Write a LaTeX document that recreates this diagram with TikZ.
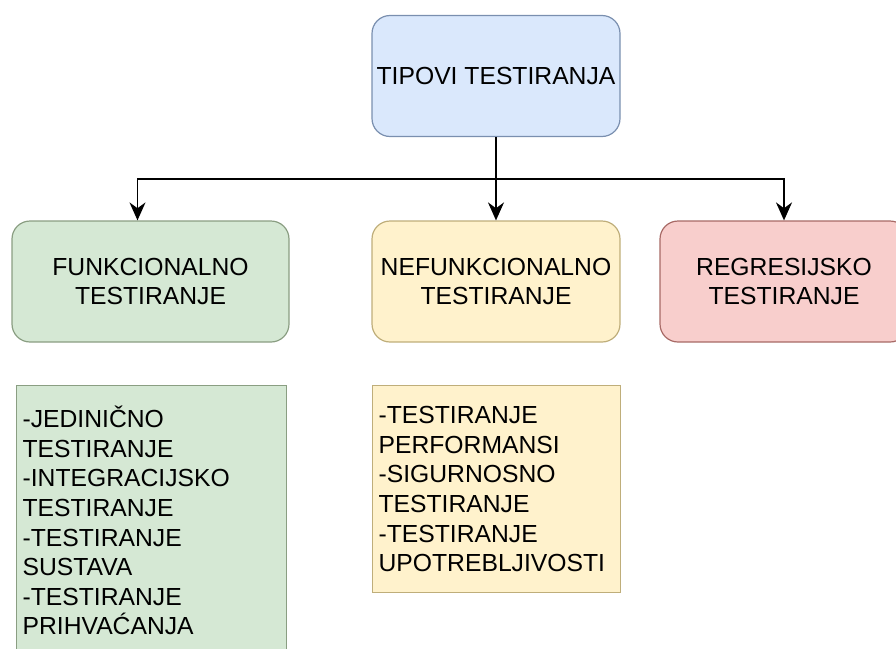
\documentclass[tikz,border=0pt]{standalone}
\usepackage{fontspec}
\setmainfont{Liberation Sans}
\usepackage{tikz}
\usetikzlibrary{arrows.meta}

\definecolor{bluefill}{HTML}{DAE8FC}
\definecolor{blueline}{HTML}{7A8FAF}
\definecolor{greenfill}{HTML}{D5E8D4}
\definecolor{greenline}{HTML}{8A9E82}
\definecolor{yellowfill}{HTML}{FFF2CC}
\definecolor{yellowline}{HTML}{BFAE7A}
\definecolor{redfill}{HTML}{F8CECC}
\definecolor{redline}{HTML}{A86A66}

\tikzset{
	typebox/.style={draw, rounded corners=18pt, line width=1.2pt, align=center,
		minimum width=248pt, minimum height=121pt,
		font=\fontsize{24.7}{29.6}\selectfont},
	listbox/.style={draw, line width=1.2pt, align=left, anchor=north west,
		inner xsep=6pt, font=\fontsize{24.7}{29.6}\selectfont},
	conn/.style={line width=1.6pt, ->}
}

\begin{document}
\begin{tikzpicture}[x=1pt,y=-1pt,>={Stealth[length=18pt,width=16pt]}]
		\useasboundingbox (0,0) rectangle (896,648);

		\node[typebox, fill=bluefill, draw=blueline] (tipovi) at (496,76) {TIPOVI TESTIRANJA};
		\node[typebox, fill=greenfill, draw=greenline, minimum width=277pt] (funk) at (150.5,281.5) {FUNKCIONALNO\\TESTIRANJE};
		\node[typebox, fill=yellowfill, draw=yellowline] (nefunk) at (496,281.5) {NEFUNKCIONALNO\\TESTIRANJE};
		\node[typebox, fill=redfill, draw=redline] (regres) at (784,281.5) {REGRESIJSKO\\TESTIRANJE};

		\node[listbox, fill=greenfill, draw=greenline, text width=258pt, minimum height=270pt] (funklist) at (16,385)
			{-JEDINIČNO\\TESTIRANJE\\-INTEGRACIJSKO\\TESTIRANJE\\-TESTIRANJE\\SUSTAVA\\-TESTIRANJE\\PRIHVAĆANJA};
		\node[listbox, fill=yellowfill, draw=yellowline, text width=236pt, minimum height=207pt] (nefunklist) at (372,385)
			{-TESTIRANJE\\PERFORMANSI\\-SIGURNOSNO\\TESTIRANJE\\-TESTIRANJE\\UPOTREBLJIVOSTI};

		\coordinate (split) at (496,179);
		\draw[conn] (tipovi.south) -- (nefunk.north);
		\draw[conn] (split) -| ([xshift=-13pt]funk.north);
		\draw[conn] (split) -| (regres.north);
	\end{tikzpicture}
\end{document}
